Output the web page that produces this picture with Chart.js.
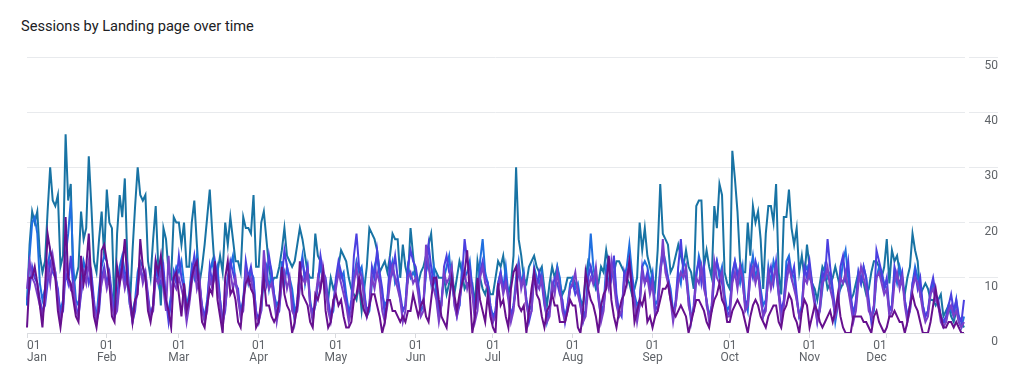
<!DOCTYPE html>
<html>
<head>
<meta charset="utf-8">
<script src="https://cdn.jsdelivr.net/npm/chart.js@4.4.1/dist/chart.umd.min.js"></script>
<style>
  html, body { margin: 0; padding: 0; background: #fff; }
  #wrap { position: relative; width: 1021px; height: 375px; }
  #title { position: absolute; left: 21px; top: 17px; font: 14.6px Roboto, sans-serif; color: #202124; }
  canvas { position: absolute; left: 0; top: 0; }
</style>
</head>
<body>
<div id="wrap">
  <div id="title">Sessions by Landing page over time</div>
  <canvas id="chart" width="1021" height="375"></canvas>
</div>
<script>
const YEAR = 2023;
const MONTHS = ['Jan', 'Feb', 'Mar', 'Apr', 'May', 'Jun', 'Jul', 'Aug', 'Sep', 'Oct', 'Nov', 'Dec'];
const Y_TICKS = [0, 10, 20, 30, 40, 50];

// daily sessions, one line per month
const pageTeal = [
  5, 16, 22, 20, 22, 14, 11, 13, 22, 30, 24, 23, 25, 12, 14, 36, 24, 27, 9, 10, 12, 22, 17, 19, 32, 23, 13, 11, 17, 22, 14,
  26, 20, 19, 4, 18, 25, 21, 28, 13, 5, 15, 23, 30, 25, 24, 25, 13, 10, 17, 23, 12, 5, 19, 17, 11, 10, 21, 20,
  20, 16, 20, 12, 12, 20, 24, 16, 9, 12, 16, 21, 26, 18, 11, 11, 14, 11, 20, 16, 21, 17, 13, 13, 11, 21, 19, 19, 18, 25, 12,
  12, 20, 22, 17, 12, 9, 10, 10, 12, 15, 19, 14, 13, 12, 13, 16, 19, 17, 14, 11, 10, 10, 18, 14, 13, 10, 8, 6, 10, 8,
  9, 12, 15, 14, 13, 10, 8, 7, 6, 9, 4, 8, 12, 19, 18, 17, 15, 11, 12, 13, 11, 14, 18, 17, 17, 10, 16, 12, 10, 19, 14,
  10, 9, 11, 12, 14, 16, 18, 12, 11, 10, 10, 10, 7, 9, 12, 7, 10, 13, 11, 8, 9, 9, 9, 5, 13, 10, 8, 7, 9, 7,
  7, 10, 13, 12, 14, 10, 7, 9, 14, 30, 17, 14, 10, 9, 12, 13, 14, 12, 11, 12, 8, 5, 9, 12, 10, 12, 9, 7, 8, 10, 10,
  10, 9, 8, 6, 5, 10, 13, 12, 10, 8, 9, 12, 11, 15, 12, 10, 11, 13, 13, 12, 11, 10, 9, 7, 8, 10, 20, 15, 19, 14, 12,
  10, 8, 15, 27, 18, 17, 16, 11, 12, 14, 16, 14, 12, 15, 12, 11, 8, 23, 24, 24, 12, 15, 12, 10, 23, 19, 27, 25, 11, 9,
  8, 33, 28, 22, 13, 11, 11, 20, 14, 23, 20, 22, 17, 8, 18, 23, 23, 20, 27, 11, 7, 21, 21, 26, 19, 16, 19, 11, 14, 10, 16,
  12, 9, 8, 6, 9, 12, 11, 8, 9, 10, 12, 10, 8, 9, 10, 8, 6, 7, 9, 11, 10, 9, 7, 8, 11, 13, 13, 12, 10, 12,
  17, 9, 15, 13, 14, 11, 9, 7, 10, 12, 18, 15, 13, 7, 8, 9, 8, 6, 6, 5, 6, 7, 3, 4, 5, 3, 2, 4, 3, 2, 1
];

const pageBlue = [
  5, 14, 20, 21, 18, 9, 6, 8, 12, 15, 13, 11, 7, 4, 6, 14, 18, 24, 12, 6, 5, 9, 13, 11, 12, 10, 5, 3, 8, 12, 14,
  13, 10, 6, 3, 6, 12, 14, 11, 9, 5, 4, 6, 11, 13, 12, 10, 6, 3, 5, 12, 9, 13, 11, 5, 4, 7, 10, 12,
  11, 13, 9, 5, 7, 12, 10, 14, 9, 4, 3, 6, 11, 13, 10, 12, 6, 2, 5, 10, 12, 14, 9, 7, 4, 6, 12, 9, 11, 10, 3,
  3, 4, 10, 12, 8, 11, 7, 5, 6, 13, 9, 12, 10, 8, 4, 5, 11, 14, 9, 12, 6, 3, 5, 9, 12, 10, 8, 5, 3, 4,
  9, 12, 10, 11, 7, 4, 5, 10, 13, 11, 12, 8, 3, 4, 9, 12, 14, 10, 7, 5, 6, 11, 13, 9, 10, 6, 4, 5, 12, 10, 11,
  10, 8, 4, 5, 11, 13, 9, 12, 7, 3, 6, 10, 12, 14, 9, 6, 4, 5, 12, 10, 11, 13, 8, 4, 6, 13, 17, 11, 9, 5,
  3, 4, 9, 11, 8, 12, 7, 3, 5, 10, 13, 9, 11, 6, 4, 5, 12, 10, 9, 11, 7, 2, 4, 9, 8, 12, 10, 5, 3, 5, 9,
  10, 8, 9, 6, 3, 4, 11, 18, 12, 9, 7, 4, 5, 12, 9, 11, 13, 6, 3, 4, 10, 12, 16, 11, 7, 5, 6, 12, 13, 12, 9,
  11, 5, 6, 12, 15, 13, 10, 8, 4, 5, 11, 9, 13, 12, 7, 3, 4, 10, 14, 12, 9, 6, 3, 5, 11, 13, 10, 12, 7, 4,
  5, 10, 13, 11, 9, 12, 6, 4, 11, 14, 10, 12, 8, 5, 6, 12, 9, 13, 11, 7, 4, 5, 13, 14, 11, 10, 6, 3, 5, 11, 12,
  10, 9, 6, 3, 4, 8, 12, 10, 11, 7, 2, 5, 9, 13, 15, 10, 6, 4, 5, 11, 9, 12, 10, 5, 3, 4, 10, 12, 11, 9,
  8, 4, 5, 11, 9, 12, 10, 6, 3, 4, 9, 12, 10, 8, 5, 3, 4, 7, 9, 6, 5, 3, 2, 2, 5, 4, 3, 6, 2, 1, 3
];

const pageIndigo = [
  6, 8, 12, 10, 9, 6, 4, 5, 9, 13, 11, 10, 8, 3, 4, 11, 9, 14, 8, 5, 3, 7, 10, 12, 9, 11, 6, 2, 4, 10, 12,
  9, 11, 7, 3, 5, 10, 13, 9, 12, 6, 2, 4, 9, 12, 10, 11, 7, 3, 5, 13, 10, 9, 12, 6, 2, 6, 11, 9,
  14, 10, 8, 4, 6, 11, 14, 10, 9, 5, 3, 5, 12, 9, 13, 10, 6, 2, 4, 10, 13, 11, 9, 8, 3, 5, 13, 10, 12, 9, 4,
  2, 5, 12, 9, 14, 11, 7, 3, 4, 10, 15, 12, 9, 6, 2, 6, 11, 13, 10, 12, 5, 4, 5, 9, 14, 11, 10, 6, 3, 5,
  10, 13, 11, 9, 6, 3, 6, 14, 18, 12, 10, 7, 4, 5, 12, 10, 15, 11, 8, 3, 6, 13, 11, 14, 10, 7, 4, 5, 12, 15, 13,
  12, 9, 5, 6, 11, 16, 12, 9, 10, 4, 5, 12, 14, 11, 10, 6, 3, 5, 10, 17, 13, 12, 8, 4, 6, 11, 13, 10, 9, 5,
  2, 4, 9, 11, 8, 10, 7, 3, 5, 8, 11, 9, 10, 6, 2, 4, 10, 8, 11, 9, 5, 3, 4, 8, 10, 9, 7, 6, 2, 5, 8,
  9, 7, 8, 5, 2, 4, 10, 12, 9, 11, 6, 3, 5, 9, 13, 10, 14, 7, 4, 3, 11, 9, 13, 10, 6, 3, 5, 12, 9, 11, 8,
  10, 4, 5, 11, 14, 12, 10, 7, 3, 6, 12, 17, 11, 10, 6, 2, 5, 11, 13, 9, 12, 5, 3, 4, 10, 13, 11, 9, 6, 3,
  4, 11, 13, 10, 12, 9, 5, 6, 12, 10, 13, 11, 7, 3, 5, 10, 12, 9, 13, 8, 4, 6, 11, 13, 10, 12, 7, 3, 4, 12, 10,
  13, 9, 6, 2, 5, 11, 10, 17, 12, 8, 4, 5, 12, 14, 10, 13, 7, 3, 6, 11, 9, 12, 10, 6, 2, 5, 15, 13, 11, 8,
  10, 4, 5, 12, 10, 9, 11, 6, 3, 5, 9, 11, 8, 10, 5, 3, 4, 8, 10, 7, 6, 3, 2, 3, 5, 7, 4, 6, 3, 2, 6
];

const pagePurple = [
  8, 13, 10, 9, 7, 5, 3, 6, 12, 9, 14, 11, 6, 2, 5, 13, 10, 8, 9, 4, 3, 8, 11, 9, 13, 8, 5, 2, 6, 9, 11,
  8, 10, 5, 3, 4, 9, 11, 8, 10, 5, 2, 5, 8, 12, 9, 11, 6, 3, 4, 10, 9, 11, 8, 4, 14, 7, 9, 8,
  10, 8, 6, 2, 5, 9, 12, 8, 10, 4, 2, 4, 10, 8, 11, 9, 5, 1, 5, 9, 11, 8, 10, 6, 3, 4, 11, 9, 10, 7, 3,
  2, 4, 15, 10, 8, 9, 6, 2, 5, 9, 11, 8, 10, 4, 3, 4, 8, 10, 9, 11, 5, 2, 6, 10, 8, 12, 9, 4, 2, 5,
  8, 11, 9, 7, 5, 2, 4, 9, 12, 8, 10, 6, 3, 5, 10, 8, 11, 9, 4, 2, 5, 9, 12, 10, 8, 6, 2, 4, 10, 11, 9,
  10, 7, 3, 4, 16, 12, 9, 8, 6, 2, 5, 11, 9, 10, 12, 5, 3, 6, 9, 11, 8, 10, 7, 2, 4, 10, 12, 9, 8, 4,
  2, 3, 8, 10, 7, 9, 6, 2, 4, 9, 12, 8, 10, 5, 3, 4, 11, 9, 8, 10, 6, 2, 3, 9, 7, 11, 8, 4, 2, 4, 8,
  9, 11, 7, 5, 2, 3, 8, 10, 9, 12, 7, 2, 4, 10, 8, 13, 9, 5, 3, 4, 9, 11, 12, 8, 6, 2, 5, 11, 9, 10, 7,
  9, 3, 4, 10, 17, 11, 9, 6, 2, 5, 9, 11, 10, 12, 5, 3, 4, 10, 9, 12, 8, 6, 2, 5, 13, 10, 9, 11, 5, 3,
  3, 9, 11, 8, 12, 10, 4, 5, 10, 12, 9, 11, 6, 3, 4, 11, 8, 10, 12, 7, 2, 5, 9, 12, 10, 8, 6, 3, 4, 10, 9,
  11, 8, 5, 2, 4, 9, 10, 12, 8, 6, 3, 5, 10, 9, 11, 8, 5, 2, 4, 9, 12, 10, 8, 4, 3, 5, 10, 11, 9, 7,
  8, 3, 4, 9, 11, 8, 10, 5, 2, 4, 8, 10, 9, 7, 4, 2, 3, 7, 8, 6, 5, 2, 1, 2, 4, 5, 3, 4, 2, 1, 2
];

const pageDarkPurple = [
  1, 10, 10, 12, 9, 5, 1, 8, 18, 15, 13, 10, 4, 1, 5, 21, 10, 9, 6, 3, 2, 14, 9, 12, 18, 9, 3, 1, 5, 15, 16,
  13, 9, 3, 2, 12, 9, 12, 17, 9, 7, 2, 6, 7, 17, 12, 10, 4, 2, 5, 13, 11, 14, 9, 6, 4, 1, 10, 11,
  7, 3, 9, 4, 6, 10, 12, 13, 7, 2, 1, 5, 8, 7, 13, 6, 3, 0, 10, 13, 7, 8, 6, 2, 1, 6, 9, 10, 8, 7, 1,
  2, 6, 10, 5, 5, 3, 2, 3, 6, 12, 7, 5, 4, 0, 2, 5, 13, 7, 6, 5, 2, 1, 7, 6, 8, 11, 4, 1, 2, 6,
  7, 5, 6, 3, 1, 1, 2, 6, 7, 10, 6, 4, 3, 5, 7, 7, 5, 3, 0, 2, 6, 6, 4, 4, 3, 2, 3, 2, 4, 4, 7,
  5, 3, 5, 6, 3, 2, 6, 10, 10, 6, 3, 2, 1, 6, 10, 7, 4, 7, 9, 11, 15, 7, 0, 3, 10, 6, 4, 2, 7, 3,
  1, 0, 9, 5, 6, 3, 1, 8, 11, 12, 5, 4, 5, 0, 4, 8, 11, 7, 6, 3, 1, 4, 5, 7, 5, 5, 2, 2, 2, 4, 6,
  5, 5, 1, 0, 4, 11, 8, 6, 5, 3, 0, 5, 7, 8, 14, 6, 3, 1, 4, 6, 7, 9, 13, 8, 2, 4, 6, 5, 7, 2, 3,
  1, 3, 4, 6, 8, 8, 9, 6, 4, 3, 4, 5, 4, 3, 0, 2, 4, 6, 6, 5, 4, 2, 1, 4, 6, 7, 9, 6, 5, 2,
  2, 4, 5, 6, 5, 4, 2, 0, 3, 5, 6, 5, 3, 2, 1, 3, 4, 5, 5, 2, 1, 4, 5, 7, 6, 3, 2, 0, 4, 6, 5,
  1, 3, 5, 4, 2, 1, 2, 3, 4, 2, 4, 7, 3, 1, 0, 0, 0, 3, 3, 3, 3, 2, 2, 1, 0, 3, 4, 2, 1, 0,
  1, 3, 3, 4, 3, 2, 2, 0, 2, 5, 7, 5, 4, 2, 0, 0, 0, 2, 5, 8, 5, 3, 1, 1, 2, 2, 1, 2, 1, 0, 0
];

// one label per day of the year
const days = [];
for (let d = new Date(Date.UTC(YEAR, 0, 1)); d.getUTCFullYear() === YEAR; d.setUTCDate(d.getUTCDate() + 1)) {
  days.push(new Date(d));
}
const labels = days.map(d => d.toISOString().slice(0, 10));

function series(data, color) {
  return {
    data,
    borderColor: color,
    backgroundColor: color,
    borderWidth: 2,
    pointRadius: 0,
    tension: 0,
    fill: false,
  };
}

// white gap between the grid and the right-hand tick marks
const gapPlugin = {
  id: 'gap',
  beforeDatasetsDraw(chart) {
    const { ctx, chartArea: a } = chart;
    ctx.save();
    ctx.fillStyle = '#fff';
    ctx.fillRect(a.right + 1, a.top - 3, 4, a.bottom - a.top + 6);
    ctx.restore();
  },
};

const tickFont = { family: 'Roboto, sans-serif', size: 12, lineHeight: 1 };

new Chart(document.getElementById('chart'), {
  type: 'line',
  data: {
    labels,
    datasets: [
      series(pageDarkPurple, '#66108e'),
      series(pagePurple, '#7a3fc9'),
      series(pageIndigo, '#4b3fe0'),
      series(pageBlue, '#1f6fe0'),
      series(pageTeal, '#1873a4'),
    ],
  },
  options: {
    responsive: false,
    animation: false,
    layout: { padding: { top: 57, right: 23, bottom: 0, left: 27 } },
    plugins: {
      legend: { display: false },
      tooltip: { enabled: false },
    },
    scales: {
      x: {
        grid: {
          drawOnChartArea: false,
          drawTicks: true,
          tickLength: 5,
          color: '#dadce0',
        },
        border: { display: true, color: '#dadce0' },
        afterBuildTicks(scale) {
          scale.ticks = scale.ticks.filter(t => days[t.value].getUTCDate() === 1);
        },
        afterFit(scale) {
          scale.height = 42;
        },
        ticks: {
          autoSkip: false,
          maxRotation: 0,
          align: 'inner',
          padding: 2,
          color: '#5f6368',
          font: tickFont,
          callback(value) {
            return ['01', MONTHS[days[value].getUTCMonth()]];
          },
        },
      },
      y: {
        position: 'right',
        min: Y_TICKS[0],
        max: Y_TICKS[Y_TICKS.length - 1],
        afterBuildTicks(scale) {
          scale.ticks = Y_TICKS.map(v => ({ value: v }));
        },
        afterFit(scale) {
          scale.width = 34;
        },
        border: { display: false },
        grid: {
          color: '#e8eaed',
          drawTicks: true,
          tickLength: 34,
          tickColor: ctx => (ctx.tick && ctx.tick.value === 0 ? 'rgba(0,0,0,0)' : '#e8eaed'),
        },
        ticks: {
          crossAlign: 'far',
          padding: -14,
          labelOffset: 9,
          color: '#5f6368',
          font: tickFont,
        },
      },
    },
  },
  plugins: [gapPlugin],
});
</script>
</body>
</html>
